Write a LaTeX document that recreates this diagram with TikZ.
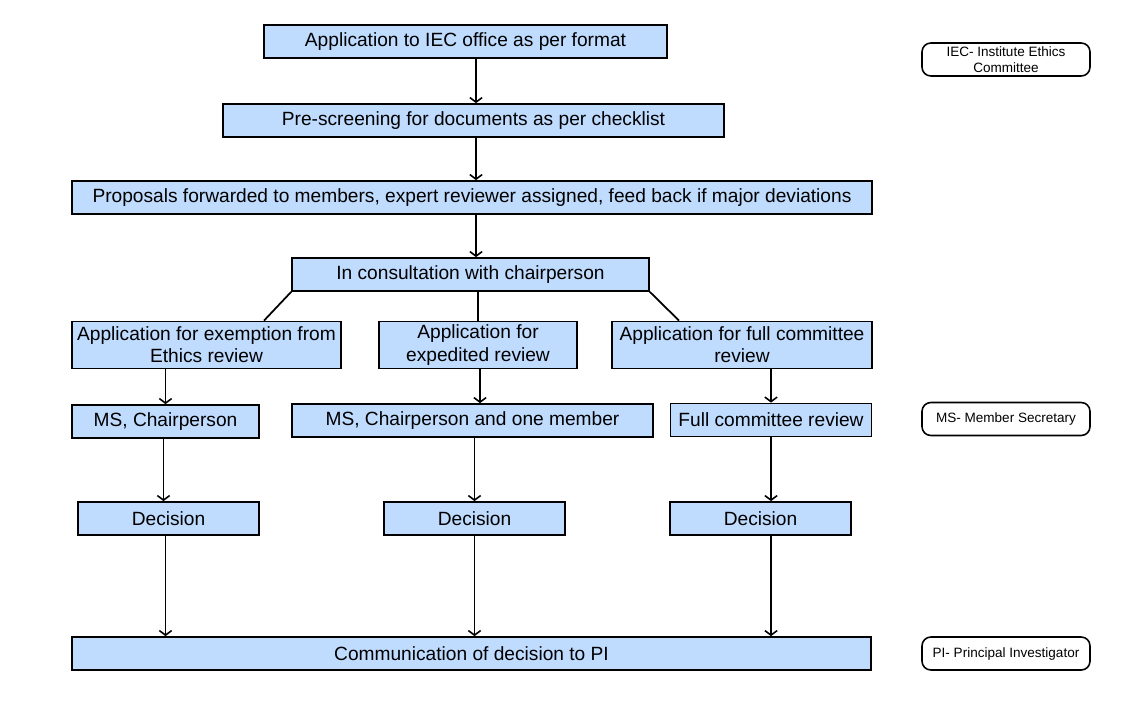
\documentclass[tikz,border=0pt]{standalone}
\usepackage{fontspec}
\setmainfont{Liberation Sans}
\usetikzlibrary{calc,arrows.meta}

\definecolor{boxblue}{RGB}{191,219,254}

\tikzset{
  stepbox/.style={draw=black, fill=boxblue, line width=1pt, inner sep=1pt,
    align=center, font=\fontsize{10.9}{12.6}\selectfont, minimum height=0.66cm},
  keybox/.style={draw=black, rounded corners=5pt, line width=0.9pt, align=center,
    font=\fontsize{7.7}{9}\selectfont, minimum width=3.36cm, minimum height=0.66cm, inner sep=1pt},
  flow/.style={-{Straight Barb[length=2.6pt,width=7pt,line width=0.9pt]}, line width=1pt},
  link/.style={line width=1pt}
}

\begin{document}
\begin{tikzpicture}[x=0.02cm, y=-0.02cm]
\useasboundingbox (0,0) rectangle (1138,716);

%top row
\node[stepbox, minimum width=8.06cm] (apply) at (465.5,41.5) {Application to IEC office as per format};
\node[stepbox, minimum width=10.02cm] (screen) at (473.5,120.5) {Pre-screening for documents as per checklist};
\node[stepbox, minimum width=16cm] (forward) at (472,197.5) {Proposals forwarded to members, expert reviewer assigned, feed back if major deviations};
\node[stepbox, minimum width=7.14cm] (chair) at (470.5,274.5) {In consultation with chairperson};

%three kinds of application
\node[stepbox, minimum width=5.38cm, minimum height=0.94cm] (exempt) at (206.5,345) {Application for exemption from\\Ethics review};
\node[stepbox, minimum width=3.96cm, minimum height=0.94cm] (expedite) at (478,345) {Application for\\expedited review};
\node[stepbox, minimum width=5.2cm, minimum height=0.94cm] (full) at (742,345) {Application for full committee\\review};

%reviewers
\node[stepbox, minimum width=3.74cm] (msc) at (165.5,421.5) {MS, Chairperson};
\node[stepbox, minimum width=7.22cm] (mscm) at (472.5,420.5) {MS, Chairperson and one member};
\node[stepbox, minimum width=4.02cm] (fcr) at (771,420) {Full committee review};

%decisions
\node[stepbox, minimum width=3.62cm] (dec1) at (168.5,518.5) {Decision};
\node[stepbox, minimum width=3.62cm] (dec2) at (474.5,518.5) {Decision};
\node[stepbox, minimum width=3.62cm] (dec3) at (760.5,518.5) {Decision};

\node[stepbox, minimum width=15.98cm] (tell) at (471.5,653.5) {Communication of decision to PI};

%key
\node[keybox] (keyiec) at (1006,59.5) {IEC- Institute Ethics\\Committee};
\node[keybox] (keyms) at (1006,419) {MS- Member Secretary};
\node[keybox] (keypi) at (1006,653.5) {PI- Principal Investigator};

%arrows
\draw[flow] ([xshift=0.21cm]apply.south) -- ([xshift=0.21cm]apply.south |- screen.north);
\draw[flow] ([xshift=0.05cm]screen.south) -- ([xshift=0.05cm]screen.south |- forward.north);
\draw[flow] ([xshift=0.08cm]forward.south) -- ([xshift=0.08cm]forward.south |- chair.north);

\draw[link] (chair.south west) -- ([xshift=1.15cm]exempt.north);
\draw[link] (expedite.north |- chair.south) -- (expedite.north);
\draw[link] (chair.south east) -- ([xshift=-1.26cm]full.north);

\draw[flow] (msc.north |- exempt.south) -- (msc.north);
\draw[flow] ([xshift=0.04cm]expedite.south) -- ([xshift=0.04cm]expedite.south |- mscm.north);
\draw[flow] (fcr.north |- full.south) -- (fcr.north);

\draw[flow] ([xshift=-0.04cm]msc.south) -- ([xshift=-0.04cm]msc.south |- dec1.north);
\draw[flow] (dec2.north |- mscm.south) -- (dec2.north);
\draw[flow] (fcr.south) -- (fcr.south |- dec3.north);

\draw[flow] (dec1.south -| msc.south) -- (msc.south |- tell.north);
\draw[flow] (dec2.south) -- (dec2.south |- tell.north);
\draw[flow] (dec3.south -| fcr.south) -- (fcr.south |- tell.north);
\end{tikzpicture}
\end{document}
